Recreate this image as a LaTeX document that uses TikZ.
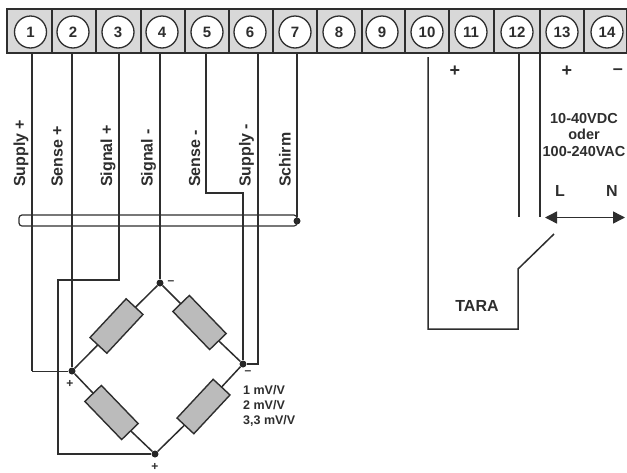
\documentclass[tikz,border=0pt]{standalone}
\usepackage{fontspec}
\setmainfont{Liberation Sans}
\usetikzlibrary{arrows.meta}

\tikzset{
  cell/.style={rectangle, draw=wirecol, fill=cellcol, line width=1.4pt, minimum width=#1, minimum height=44, inner sep=0},
  term/.style={circle, draw=wirecol, fill=white, line width=1.3pt, minimum size=32, inner sep=0, text=wirecol, font=\bfseries\fontsize{15}{15}\selectfont},
  wire/.style={draw=wirecol, line width=1.5pt},
  thinwire/.style={draw=wirecol, line width=0.8pt},
  junction/.style={circle, fill=black!85, minimum size=7, inner sep=0},
  res/.style={rectangle, draw=wirecol, fill=rescol, line width=1.4pt, minimum width=53, minimum height=23, inner sep=0},
  lbl/.style={text=wirecol, inner sep=0, font=\bfseries\fontsize{16}{16}\selectfont},
  sidelbl/.style={lbl, rotate=90, anchor=base west},
  small/.style={text=wirecol, inner sep=0, font=\bfseries\fontsize{12}{12}\selectfont}
}
\definecolor{wirecol}{HTML}{2E2E2E}
\definecolor{cellcol}{HTML}{D8D8D8}
\definecolor{rescol}{HTML}{BBBBBB}

\begin{document}
\begin{tikzpicture}[x=1pt, y=-1pt]
    \useasboundingbox (0,0) rectangle (627,472);

    % terminal strip
    \node[cell=45] (c1) at (29.5, 31) {};
    \node[cell=44] (c2) at (74, 31) {};
    \node[cell=45] (c3) at (118.5, 31) {};
    \node[cell=44] (c4) at (163, 31) {};
    \node[cell=44] (c5) at (207, 31) {};
    \node[cell=44] (c6) at (251, 31) {};
    \node[cell=44] (c7) at (295, 31) {};
    \node[cell=45] (c8) at (339.5, 31) {};
    \node[cell=43] (c9) at (383.5, 31) {};
    \node[cell=44] (c10) at (427, 31) {};
    \node[cell=45] (c11) at (471.5, 31) {};
    \node[cell=46] (c12) at (517, 31) {};
    \node[cell=44] (c13) at (562, 31) {};
    \node[cell=43] (c14) at (605.5, 31) {};

    \node[term] (t1) at (30.5, 32) {1};
    \node[term] (t2) at (73, 32) {2};
    \node[term] (t3) at (118, 32) {3};
    \node[term] (t4) at (162, 32) {4};
    \node[term] (t5) at (207, 32) {5};
    \node[term] (t6) at (250, 32) {6};
    \node[term] (t7) at (295, 32) {7};
    \node[term] (t8) at (339, 32) {8};
    \node[term] (t9) at (382, 32) {9};
    \node[term] (t10) at (427, 32) {10};
    \node[term] (t11) at (471, 32) {11};
    \node[term] (t12) at (517, 32) {12};
    \node[term] (t13) at (562, 32) {13};
    \node[term] (t14) at (607, 32) {14};

    % wire starts under the strip
    \coordinate (w1) at (31.9, 53);
    \coordinate (w2) at (72, 53);
    \coordinate (w3) at (119, 53);
    \coordinate (w4) at (160, 53);
    \coordinate (w5) at (206, 53);
    \coordinate (w6) at (258, 53);
    \coordinate (w7) at (297, 53);
    \coordinate (w10) at (428, 57);
    \coordinate (w12) at (519, 53);
    \coordinate (w13) at (540, 53);

    % bridge
    \node[junction] (top) at (160, 283) {};
    \node[junction] (left) at (72, 371) {};
    \node[junction] (right) at (243, 364) {};
    \node[junction] (bottom) at (155, 454) {};
    \node[junction] (shield) at (297, 221) {};

    \draw[wire] (top) -- (116.5, 326) -- (left);
    \draw[wire] (top) -- (199.5, 322.5) -- (right);
    \draw[wire] (left) -- (111.5, 412.5) -- (bottom);
    \draw[wire] (right) -- (203.5, 406.5) -- (bottom);

    \node[res, rotate=47] (r1) at (116.5, 326) {};
    \node[res, rotate=-46] (r2) at (199.5, 322.5) {};
    \node[res, rotate=-46] (r3) at (111.5, 412.5) {};
    \node[res, rotate=47] (r4) at (203.5, 406.5) {};

    % cable
    \node[rectangle, rounded corners=3, draw=wirecol, line width=1.2pt, minimum width=278, minimum height=11, inner sep=0] (cable) at (158, 220.5) {};

    % wires to the bridge
    \coordinate (k1) at (31.9, 371);
    \coordinate (k3) at (58, 280);
    \coordinate (k5) at (243, 193);
    \draw[wire] (w1) -- (k1);
    \draw[thinwire] (k1) -- (left);
    \draw[wire] (w2) -- (left);
    \draw[wire] (w3) |- (k3) |- (bottom);
    \draw[wire] (w4) -- (top);
    \draw[wire] (w5) |- (k5) -- (right);
    \draw[wire] (w6) |- (right);
    \draw[wire] (w7) -- (shield);

    % relay contact
    \coordinate (k10a) at (518, 329);
    \coordinate (k10b) at (518, 269);
    \coordinate (k10c) at (554, 234);
    \coordinate (e12) at (519, 217);
    \coordinate (e13) at (540, 217);
    \draw[wire] (w10) |- (k10a) -- (k10b) -- (k10c);
    \draw[wire] (w12) -- (e12);
    \draw[wire] (w13) -- (e13);

    % supply arrow
    \coordinate (arrL) at (545, 217.5);
    \coordinate (arrN) at (625, 217.5);
    \draw[wire, {Triangle[length=12, width=12]}-{Triangle[length=12, width=12]}] (arrL) -- (arrN);

    % labels
    \node[sidelbl] (l1) at (25, 187) {Supply +};
    \node[sidelbl] (l2) at (62.5, 187) {Sense +};
    \node[sidelbl] (l3) at (112, 187) {Signal +};
    \node[sidelbl] (l4) at (152.5, 187) {Signal -};
    \node[sidelbl] (l5) at (200, 187) {Sense -};
    \node[sidelbl] (l6) at (250.5, 187) {Supply -};
    \node[sidelbl] (l7) at (290.5, 187) {Schirm};

    \node[lbl] (tara) at (477, 306) {TARA};
    \node[lbl] (labL) at (560, 191) {L};
    \node[lbl] (labN) at (612, 191) {N};
    \node[lbl, font=\bfseries\fontsize{18}{18}\selectfont] (p11) at (455, 71) {+};
    \node[lbl, font=\bfseries\fontsize{18}{18}\selectfont] (p13) at (567, 71) {+};
    \node[lbl, font=\bfseries\fontsize{18}{18}\selectfont] (m14) at (618, 71.5) {–};
    \node[lbl, align=center, font=\bfseries\fontsize{14.5}{16.7}\selectfont] (volt) at (584, 135) {10-40VDC\\oder\\100-240VAC};
    \node[small, anchor=west, align=left, font=\bfseries\fontsize{12.5}{15}\selectfont] (mv) at (243, 406) {1 mV/V\\2 mV/V\\3,3 mV/V};

    % balance signs
    \node[small] (mtop) at (171, 283) {–};
    \node[small] (mright) at (248, 373) {–};
    \node[small] (pleft) at (70, 384) {+};
    \node[small] (pbottom) at (155, 467) {+};

\end{tikzpicture}
\end{document}
